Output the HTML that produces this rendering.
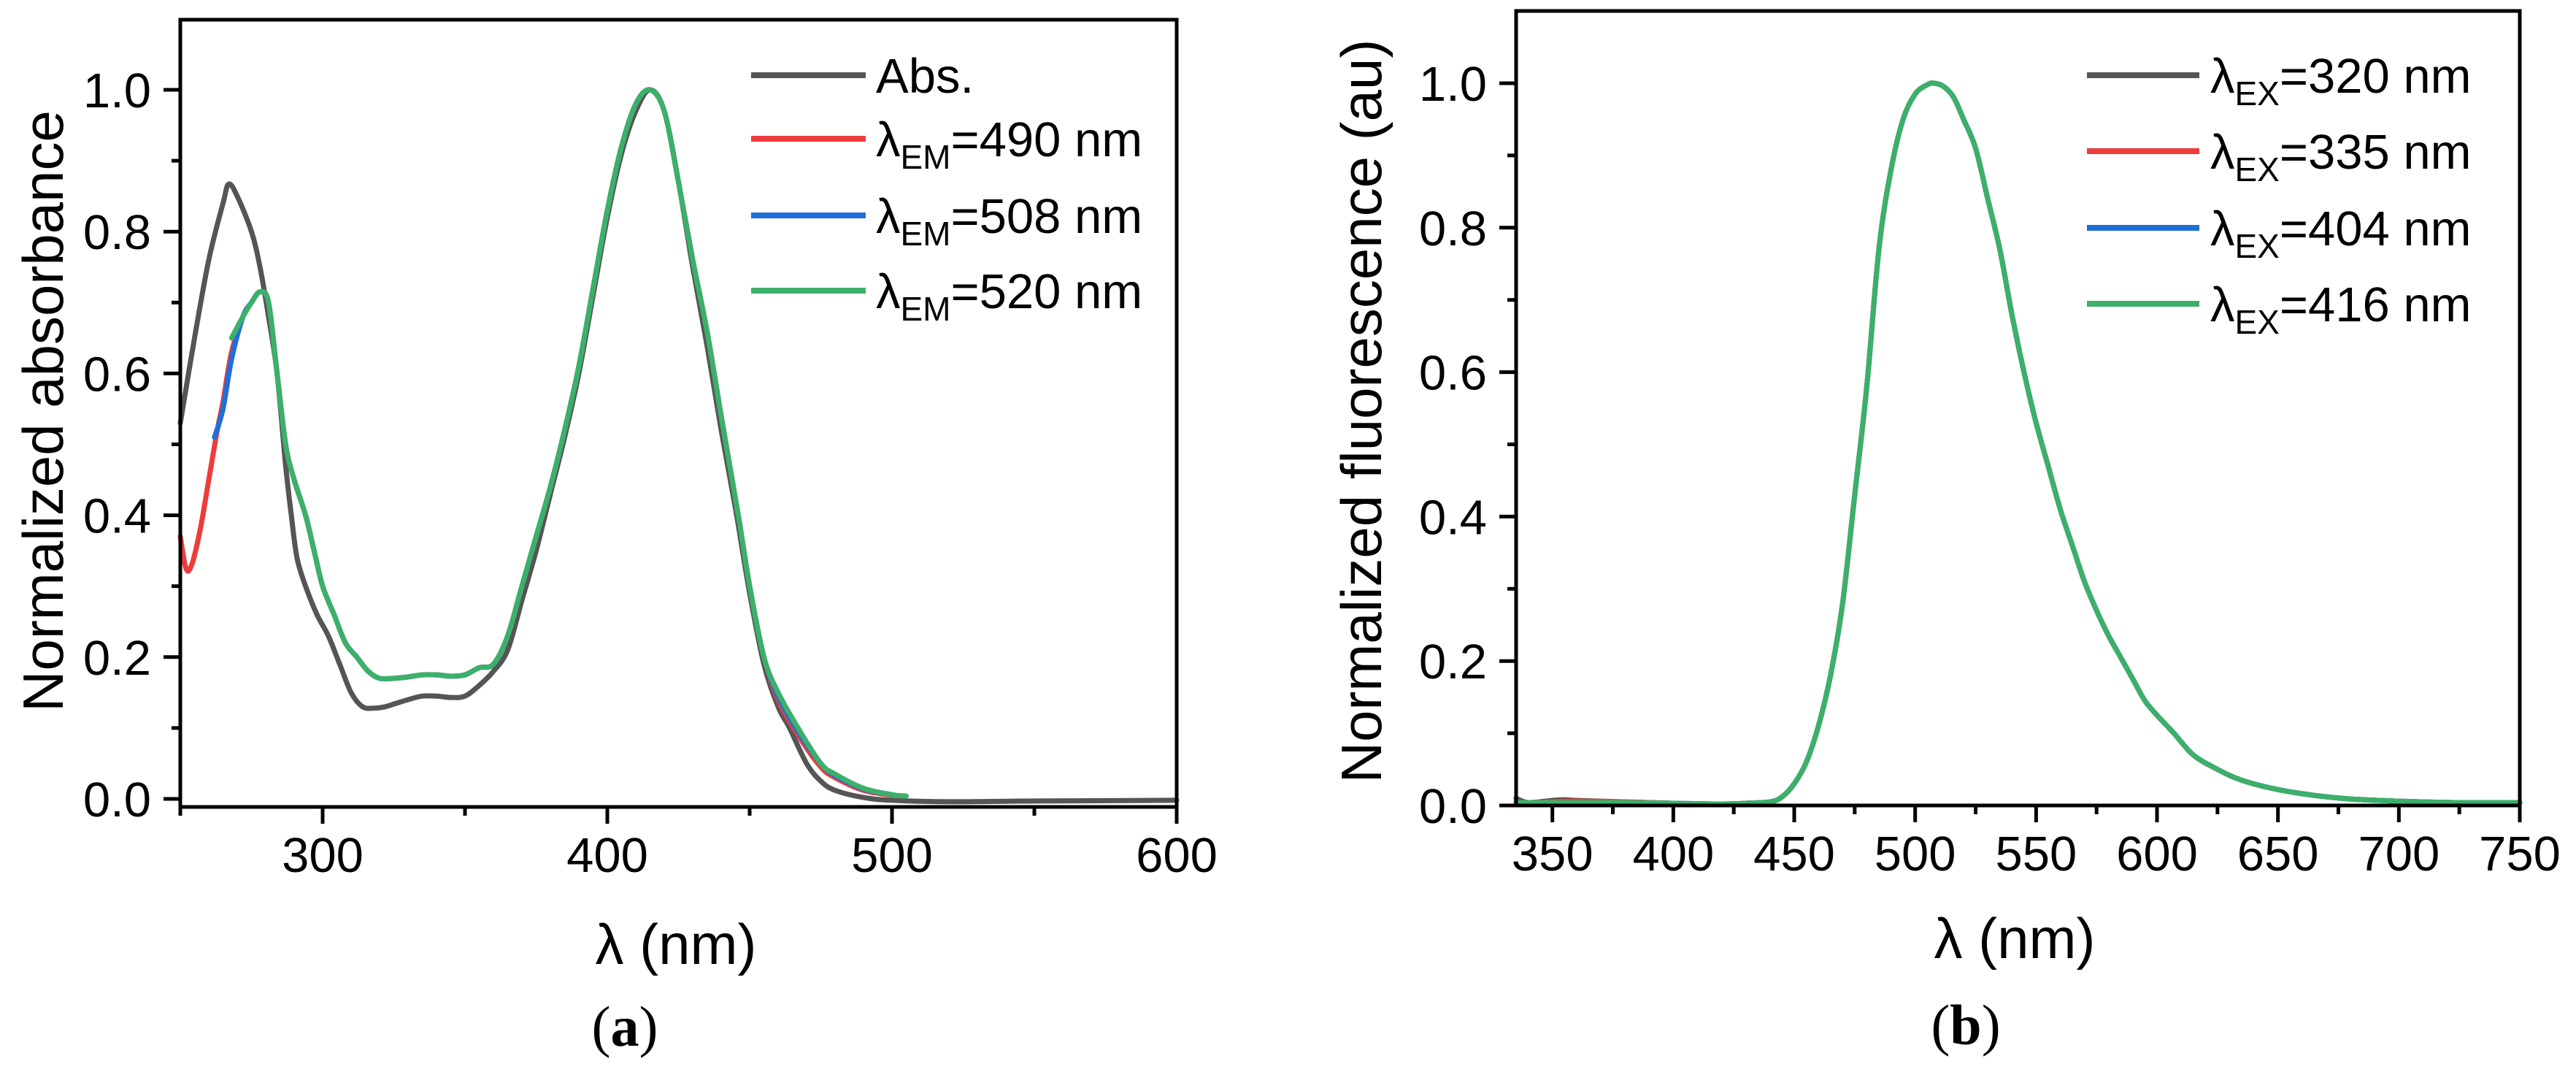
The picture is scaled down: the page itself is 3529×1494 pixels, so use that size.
<!DOCTYPE html>
<html><head><meta charset="utf-8">
<style>
html,body{margin:0;padding:0;background:#fff;}
svg{display:block;font-family:"Liberation Sans",Arial,sans-serif;}
</style></head>
<body>
<svg id="fig" width="3529" height="1494" viewBox="0 0 3529 1494" xmlns="http://www.w3.org/2000/svg"></svg>
<script>
// ---------- Panel (a) data ----------
const absX = [250,255,260,265,267,270,275,278,281,284,287,289,291,294,298,302,306,310,314,318,322,326,330,335,340,345,350,355,360,365,370,375,380,385,390,395,400,405,410,415,420,425,430,435,440,445,450,455,460,464,470,475,480,490,500,520,550,600];
const absY = [0.53,0.65,0.76,0.84,0.867,0.85,0.80,0.75,0.68,0.60,0.47,0.40,0.34,0.30,0.26,0.23,0.19,0.15,0.13,0.128,0.13,0.135,0.14,0.145,0.145,0.143,0.145,0.16,0.18,0.21,0.28,0.35,0.43,0.51,0.60,0.71,0.82,0.91,0.97,1.0,0.97,0.87,0.75,0.64,0.52,0.41,0.29,0.19,0.13,0.10,0.05,0.025,0.012,0.002,-0.002,-0.004,-0.003,-0.002];
const em490X = [250,252,254,257,260,263,265,268,272,275,278,281,284,287,290,294,297,300,304,308,312,316,320,325,330,335,340,345,350,355,360,365,370,375,380,385,390,395,400,405,410,415,420,425,430,435,440,446,450,455,460,467,475,480,490,500];
const em490Y = [0.37,0.325,0.33,0.38,0.45,0.52,0.56,0.63,0.68,0.70,0.715,0.70,0.60,0.50,0.45,0.40,0.35,0.30,0.26,0.22,0.20,0.18,0.17,0.17,0.172,0.175,0.175,0.173,0.175,0.185,0.19,0.23,0.30,0.37,0.44,0.52,0.61,0.72,0.83,0.92,0.98,1.0,0.97,0.87,0.76,0.66,0.54,0.40,0.30,0.20,0.14,0.09,0.045,0.03,0.012,0.005];
const em508X = [262,265,268,272,275,278,281,284,287,290,294,297,300,304,308,312,316,320,325,330,335,340,345,350,355,360,365,370,375,380,385,390,395,400,405,410,415,420,425,430,435,440,446,450,455,460,467,475,480,490,500];
const em508Y = [0.51,0.55,0.62,0.68,0.70,0.715,0.70,0.60,0.50,0.45,0.40,0.35,0.30,0.26,0.22,0.20,0.18,0.17,0.17,0.172,0.175,0.175,0.173,0.175,0.185,0.19,0.23,0.30,0.37,0.44,0.52,0.61,0.72,0.83,0.92,0.98,1.0,0.97,0.87,0.76,0.66,0.54,0.40,0.30,0.20,0.145,0.095,0.05,0.033,0.014,0.006];
const em520X = [268,272,275,278,281,284,287,290,294,297,300,304,308,312,316,320,325,330,335,340,345,350,355,360,365,370,375,380,385,390,395,400,405,410,415,420,425,430,435,440,446,450,455,460,467,475,480,490,500,505];
const em520Y = [0.65,0.68,0.70,0.715,0.70,0.60,0.50,0.45,0.40,0.35,0.30,0.26,0.22,0.20,0.18,0.17,0.17,0.172,0.175,0.175,0.173,0.175,0.185,0.19,0.23,0.30,0.37,0.44,0.52,0.61,0.72,0.83,0.92,0.98,1.0,0.97,0.87,0.76,0.66,0.54,0.40,0.30,0.20,0.15,0.10,0.05,0.035,0.015,0.006,0.004];
const aXTicks = [300,400,500,600];
const aYTicks = [0.0,0.2,0.4,0.6,0.8,1.0];
const aXTickLabels = ["300","400","500","600"];
const aYTickLabels = ["0.0","0.2","0.4","0.6","0.8","1.0"];

// ---------- Panel (b) data ----------
const fluX = [335,340,350,355,360,380,400,420,430,440,445,450,455,460,465,470,475,480,485,490,495,500,505,508,512,516,520,525,530,535,540,545,550,555,560,565,570,575,580,585,590,595,600,607,615,625,635,650,665,680,700,725,750];
const ex320Y = [0.01,0.004,0.007,0.008,0.007,0.005,0.003,0.002,0.003,0.005,0.012,0.03,0.06,0.11,0.18,0.28,0.43,0.58,0.77,0.88,0.95,0.985,0.998,1.0,0.995,0.98,0.95,0.91,0.84,0.77,0.68,0.60,0.53,0.47,0.41,0.36,0.31,0.27,0.235,0.205,0.175,0.145,0.125,0.10,0.07,0.05,0.035,0.022,0.014,0.009,0.006,0.004,0.004];
const ex335Y = [0.005,0.004,0.005,0.006,0.006,0.005,0.003,0.002,0.003,0.005,0.012,0.03,0.06,0.11,0.18,0.28,0.43,0.58,0.77,0.88,0.95,0.985,0.998,1.0,0.995,0.98,0.95,0.91,0.84,0.77,0.68,0.60,0.53,0.47,0.41,0.36,0.31,0.27,0.235,0.205,0.175,0.145,0.125,0.10,0.07,0.05,0.035,0.022,0.014,0.009,0.006,0.004,0.004];
const ex404Y = [0.004,0.004,0.004,0.004,0.004,0.004,0.003,0.002,0.003,0.005,0.012,0.03,0.06,0.11,0.18,0.28,0.43,0.58,0.77,0.88,0.95,0.985,0.998,1.0,0.995,0.98,0.95,0.91,0.84,0.77,0.68,0.60,0.53,0.47,0.41,0.36,0.31,0.27,0.235,0.205,0.175,0.145,0.125,0.10,0.07,0.05,0.035,0.022,0.014,0.009,0.006,0.004,0.004];
const ex416Y = [0.004,0.004,0.004,0.004,0.004,0.004,0.003,0.002,0.003,0.005,0.012,0.03,0.06,0.11,0.18,0.28,0.43,0.58,0.77,0.88,0.95,0.985,0.998,1.0,0.995,0.98,0.95,0.91,0.84,0.77,0.68,0.60,0.53,0.47,0.41,0.36,0.31,0.27,0.235,0.205,0.175,0.145,0.125,0.10,0.07,0.05,0.035,0.022,0.014,0.009,0.006,0.004,0.004];
const bXTicks = [350,400,450,500,550,600,650,700,750];
const bYTicks = [0.0,0.2,0.4,0.6,0.8,1.0];
const bXTickLabels = ["350","400","450","500","550","600","650","700","750"];
const bYTickLabels = ["0.0","0.2","0.4","0.6","0.8","1.0"];

const NS = "http://www.w3.org/2000/svg";
const svg = document.getElementById("fig");
function mk(tag, attrs, parent){ const e=document.createElementNS(NS,tag); for(const k in attrs) e.setAttribute(k,attrs[k]); (parent||svg).appendChild(e); return e; }

function smoothPath(pts){
  let d = "M"+pts[0][0].toFixed(1)+","+pts[0][1].toFixed(1);
  for(let i=0;i<pts.length-1;i++){
    const p0=pts[Math.max(0,i-1)], p1=pts[i], p2=pts[i+1], p3=pts[Math.min(pts.length-1,i+2)];
    const c1x=p1[0]+(p2[0]-p0[0])/6, c1y=p1[1]+(p2[1]-p0[1])/6;
    const c2x=p2[0]-(p3[0]-p1[0])/6, c2y=p2[1]-(p3[1]-p1[1])/6;
    d+=" C"+c1x.toFixed(1)+","+c1y.toFixed(1)+" "+c2x.toFixed(1)+","+c2y.toFixed(1)+" "+p2[0].toFixed(1)+","+p2[1].toFixed(1);
  }
  return d;
}

function panel(cfg){
  const g = mk("g",{});
  
  
  const sx = v => cfg.L + (v - cfg.xmin)/(cfg.xmax - cfg.xmin)*(cfg.R - cfg.L);
  const sy = v => cfg.y0 - v*(cfg.y0 - cfg.y1);
  cfg.series.forEach(s=>{
    const pts = s.x.map((xv,i)=>[sx(xv), sy(s.y[i])]);
    const p = mk("path",{d:smoothPath(pts),fill:"none",stroke:s.color,"stroke-width":7,"stroke-linejoin":"round","stroke-linecap":"round"},g);
    
    
  });
  const fr = mk("rect",{x:cfg.L,y:cfg.T,width:cfg.R-cfg.L,height:cfg.B-cfg.T,fill:"none",stroke:"#000","stroke-width":5},g);
  
  
  cfg.xTicks.forEach((t,i)=>{
    const x=sx(t);
    mk("line",{x1:x,y1:cfg.B,x2:x,y2:cfg.B+23,stroke:"#000","stroke-width":5},g);
    const tx=mk("text",{x:x,y:cfg.B+89,"font-size":67,"text-anchor":"middle",fill:"#000"},g);
    tx.textContent=cfg.xTickLabels[i];
    
    
  });
  cfg.xMinor.forEach(t=>{ const x=sx(t); mk("line",{x1:x,y1:cfg.B,x2:x,y2:cfg.B+12,stroke:"#000","stroke-width":5},g); });
  cfg.yTicks.forEach((t,i)=>{
    const y=sy(t);
    mk("line",{x1:cfg.L-23,y1:y,x2:cfg.L,y2:y,stroke:"#000","stroke-width":5},g);
    const ty=mk("text",{x:cfg.L-40,y:y+24,"font-size":67,"text-anchor":"end",fill:"#000"},g);
    ty.textContent=cfg.yTickLabels[i];
    
    
  });
  cfg.yMinor.forEach(t=>{ const y=sy(t); mk("line",{x1:cfg.L-12,y1:y,x2:cfg.L,y2:y,stroke:"#000","stroke-width":5},g); });
  const xt=mk("text",{x:cfg.xtX,y:cfg.xtY,"font-size":78,"text-anchor":"middle",fill:"#000"},g);
  xt.textContent="λ (nm)";
  
  
  const yt=mk("text",{x:0,y:0,"font-size":78,"text-anchor":"middle",fill:"#000",transform:`translate(${cfg.ytX},${cfg.ytY}) rotate(-90)`},g);
  yt.textContent=cfg.yTitle;
  
  
  const cap=mk("text",{x:cfg.capX,y:cfg.capY,"font-size":78,"text-anchor":"middle",fill:"#000","font-family":"Liberation Serif, serif"},g);
  cap.innerHTML='(<tspan font-weight="bold">'+cfg.cap+'</tspan>)';
  
  
  cfg.series.forEach((s,i)=>{
    const y=cfg.legY[i];
    const ll=mk("line",{x1:cfg.legL1,y1:y,x2:cfg.legL2,y2:y,stroke:s.color,"stroke-width":8},g);
    
    
    const lt=mk("text",{x:cfg.legT,y:y+24,"font-size":67,fill:"#000"},g);
    lt.innerHTML=s.label;
    
    
  });
}

function range(a,b,s){const r=[];for(let v=a;v<=b+1e-9;v+=s)r.push(Math.round(v*100)/100);return r;}
const sub = (lab,val)=>'λ<tspan font-size="46" dy="17">'+lab+'</tspan><tspan dy="-17">='+val+' nm</tspan>';

panel({name:"panel-a",L:247,R:1612,T:27,B:1105,xmin:250,xmax:600,y0:1094,y1:123,
  xTicks:aXTicks,xTickLabels:aXTickLabels,xMinor:[250,350,450,550],
  yTicks:aYTicks,yTickLabels:aYTickLabels,yMinor:[0.1,0.3,0.5,0.7,0.9],
  xtX:926,xtY:1320,ytX:86,ytY:563,yTitle:"Normalized absorbance",capX:856,capY:1432,cap:"a",
  legL1:1029,legL2:1186,legT:1200,legY:[103,190,295,398],
  series:[
    {id:"abs-line",x:absX,y:absY,color:"#555555",label:"Abs."},
    {id:"em490-line",x:em490X,y:em490Y,color:"#ee3c3c",label:sub("EM","490")},
    {id:"em508-line",x:em508X,y:em508Y,color:"#1f6fd9",label:sub("EM","508")},
    {id:"em520-line",x:em520X,y:em520Y,color:"#3cb06a",label:sub("EM","520")}
  ]});

panel({name:"panel-b",L:2077,R:3452,T:15,B:1103,xmin:335,xmax:750,y0:1103,y1:114,
  xTicks:bXTicks,xTickLabels:bXTickLabels,xMinor:range(375,725,50),
  yTicks:bYTicks,yTickLabels:bYTickLabels,yMinor:[0.1,0.3,0.5,0.7,0.9],
  xtX:2760,xtY:1312,ytX:1892,ytY:563,yTitle:"Normalized fluorescence (au)",capX:2693,capY:1430,cap:"b",
  legL1:2859,legL2:3013,legT:3028,legY:[103,207,312,416],
  series:[
    {id:"ex320-line",x:fluX,y:ex320Y,color:"#555555",label:sub("EX","320")},
    {id:"ex335-line",x:fluX,y:ex335Y,color:"#ee3c3c",label:sub("EX","335")},
    {id:"ex404-line",x:fluX,y:ex404Y,color:"#1f6fd9",label:sub("EX","404")},
    {id:"ex416-line",x:fluX,y:ex416Y,color:"#3cb06a",label:sub("EX","416")}
  ]});
</script>
</body></html>
